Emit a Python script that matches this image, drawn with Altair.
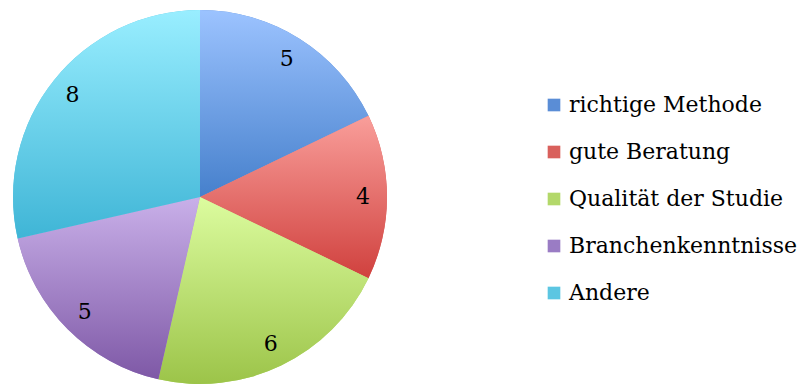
import altair as alt
import pandas as pd

categories = ["richtige Methode", "gute Beratung", "Qualität der Studie", "Branchenkenntnisse", "Andere"]
values = [5, 4, 6, 5, 8]
order_idx = [0, 1, 2, 3, 4]
top_colors = ["#9CC3FF", "#F99E9A", "#DCFC9F", "#C9B0E9", "#99EEFF"]
bottom_colors = ["#4680CC", "#D0413E", "#9CC449", "#7E58A6", "#3FB5D6"]
flat_colors = ["#5A8DD6", "#D9605C", "#B3D86A", "#9A7CC4", "#5CC6E2"]

df = pd.DataFrame({"cat": categories, "value": values, "idx": order_idx})
total = sum(values)

FONT = "DejaVu Serif"

base = alt.Chart(df).transform_window(
    cum="sum(value)", sort=[alt.SortField("idx")]
).transform_calculate(
    start="datum.cum - datum.value", mid="datum.cum - datum.value/2"
)

theta_scale = alt.Scale(domain=[0, total], range=[0, 6.283185307179586])

legend_layer = base.mark_arc(outerRadius=187).encode(
    theta=alt.Theta("start:Q", scale=theta_scale),
    theta2="cum:Q",
    color=alt.Color(
        "cat:N",
        scale=alt.Scale(domain=categories, range=flat_colors),
        sort=categories,
        legend=alt.Legend(
            title=None,
            orient="none",
            legendX=535,
            legendY=86,
            symbolType="square",
            symbolSize=160,
            symbolStrokeWidth=0,
            labelFont=FONT,
            labelFontSize=22,
            labelColor="#000000",
            labelOffset=4,
            rowPadding=25,
            labelLimit=400,
        ),
    ),
)

layers = [legend_layer]
for i, c in enumerate(categories):
    grad = alt.Gradient(
        gradient="linear",
        stops=[alt.GradientStop(color=top_colors[i], offset=0),
               alt.GradientStop(color=bottom_colors[i], offset=1)],
        x1=0, x2=0, y1=0, y2=1,
    )
    layers.append(
        base.transform_filter(alt.datum.cat == c).mark_arc(outerRadius=187, color=grad).encode(
            theta=alt.Theta("start:Q", scale=theta_scale),
            theta2="cum:Q",
        )
    )

text = base.mark_text(radius=163, font=FONT, fontSize=22, color="#000000").encode(
    theta=alt.Theta("mid:Q", scale=theta_scale, stack=None),
    text="value:Q",
)
layers.append(text)

chart = alt.layer(*layers).properties(
    width=384, height=378, padding=0
).configure_view(stroke=None)

chart.save("out.html", embed_options={"renderer": "svg", "actions": False})
